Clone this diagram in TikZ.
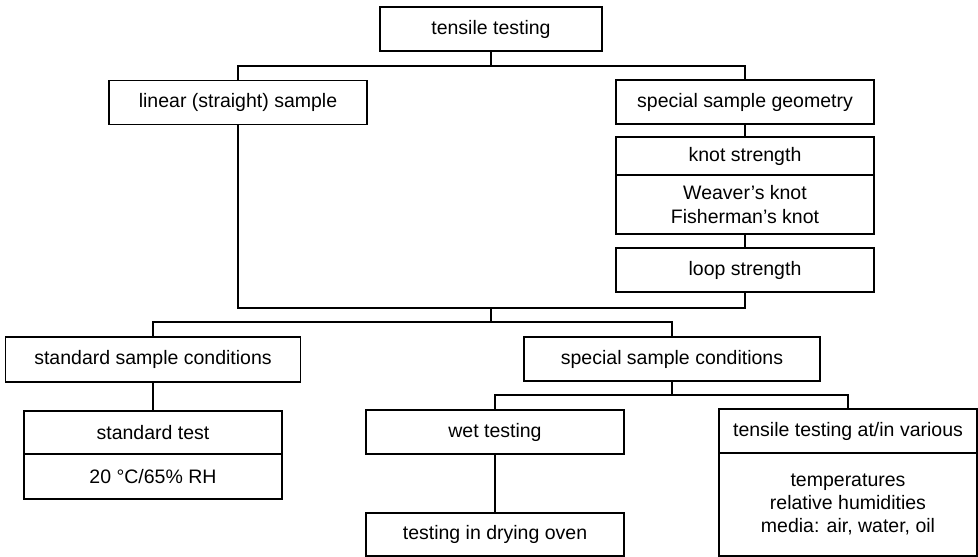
\documentclass[tikz,border=0pt]{standalone}
\usepackage{fontspec}
\setmainfont{Liberation Sans}
\tikzset{
    box/.style={draw, line width=1.2pt, minimum width=258pt, minimum height=44pt,
        inner sep=0pt, align=center},
    link/.style={line width=1.2pt}
}
\begin{document}
\begin{tikzpicture}[x=1pt,y=-1pt,font=\fontsize{19.5}{23.3}\selectfont]
    \useasboundingbox (0,0) rectangle (978,557);

    % sample geometry
    \node[box,minimum width=222pt] (top) at (491,29) {tensile testing};
    \node[box] (lin) at (238,102.5) {linear (straight) sample};
    \node[box] (geo) at (745,102) {special sample geometry};
    \node[box,minimum height=38pt] (knot) at (745,156) {knot strength};
    \node[box,minimum height=59pt] (knottypes) at (745,204.5) {Weaver's knot\\Fisherman's knot};
    \node[box] (loop) at (745,270) {loop strength};

    % sample conditions
    \node[box,minimum width=295pt,minimum height=45pt] (stdcond) at (153,359.5) {standard sample conditions};
    \node[box,minimum width=296pt] (spcond) at (672,359) {special sample conditions};
    \node[box,minimum height=43pt] (stdtest) at (153,432.5) {standard test};
    \node[box,minimum height=45pt] (stdclimate) at (153,476.5) {20 °C/65\% RH};
    \node[box] (wet) at (495,432) {wet testing};
    \node[box,minimum height=43pt] (oven) at (495,534.5) {testing in drying oven};
    \node[box] (various) at (848,431) {tensile testing at/in various};
    \node[box,minimum height=103pt] (media) at (848,504.5) {temperatures\\relative humidities\\media: air, water, oil};

    \coordinate (fork1) at (491,66);
    \coordinate (fork2) at (491,308);
    \coordinate (fork3) at (491,322);
    \coordinate (fork4) at (672,395);

    \draw[link] (top.south) -- (fork1);
    \draw[link] (lin.north) |- (fork1) -| (geo.north);
    \draw[link] (geo.south) -- (knot.north);
    \draw[link] (knottypes.south) -- (loop.north);
    \draw[link] (lin.south) |- (fork2) -| (loop.south);
    \draw[link] (fork2) -- (fork3);
    \draw[link] (stdcond.north) |- (fork3) -| (spcond.north);
    \draw[link] (stdcond.south) -- (stdtest.north);
    \draw[link] (spcond.south) -- (fork4);
    \draw[link] (wet.north) |- (fork4) -| (various.north);
    \draw[link] (wet.south) -- (oven.north);
\end{tikzpicture}
\end{document}
